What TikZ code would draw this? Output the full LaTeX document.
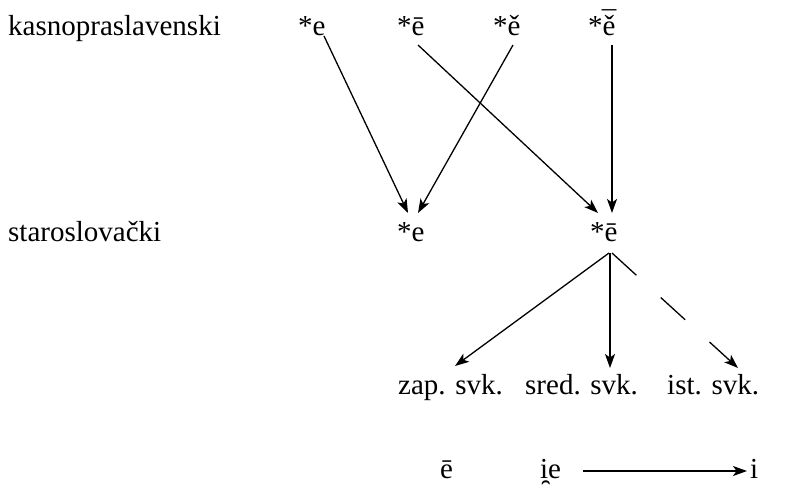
\documentclass[tikz,border=0pt]{standalone}
\usepackage{fontspec}
\setmainfont{Liberation Serif}
\newfontfamily\tms{Liberation Serif}
\usetikzlibrary{arrows.meta,calc}
\newcommand{\longjat}{\ooalign{ě\cr\hidewidth\raisebox{3.6pt}{¯}\hidewidth\cr}}
\newcommand{\nonsyli}{i\kern-2.5pt\char"032F\kern2.5pt}
\tikzset{
  txt/.style={inner sep=0pt, anchor=base west, font=\tms\fontsize{29}{34}\selectfont},
  arr/.style={line width=1.3pt, -{Stealth[length=14pt,width=10pt,inset=3.5pt]}},
  dsh/.style={arr, dash pattern=on 33pt off 33pt}
}
\begin{document}
\begin{tikzpicture}[x=1pt,y=-1pt]
\useasboundingbox (0,0) rectangle (798,498);
% labels
\node[txt] (l1) at (8,35) {kasnopraslavenski};
\node[txt] (l2) at (8,241) {staroslovački};
% row 1
\node[txt] (r1a) at (298,35) {*e};
\node[txt] (r1b) at (397,35) {*ē};
\node[txt] (r1c) at (493,35) {*ě};
\node[txt] (r1d) at (588,35) {*\longjat};
% row 2
\node[txt] (r2a) at (397,241) {*e};
\node[txt] (r2b) at (590,241) {*ē};
% dialects
\node[txt] (zap) at (398,394) {zap. svk.};
\node[txt] (sred) at (525,394) {sred. svk.};
\node[txt] (ist) at (667,394) {ist. svk.};
% bottom
\node[txt] (b1) at (440,478) {ē};
\node[txt] (b2) at (540,478) {\nonsyli e};
\node[txt] (b3) at (750,478) {i};
% arrows row1 -> row2
\draw[arr] ($(r1a.base west)+(26,1)$) -- ($(r2a.base west)+(11,-28)$);
\draw[arr] ($(r1b.base west)+(21,10)$) -- ($(r2b.base west)+(8,-28)$);
\draw[arr] ($(r1c.base west)+(20,10)$) -- ($(r2a.base west)+(21,-28)$);
\draw[arr] ($(r1d.base west)+(24,10)$) -- ($(r2b.base west)+(22,-28)$);
% row2 -> dialects
\draw[arr] ($(r2b.base west)+(19,12)$) -- ($(zap.base west)+(57,-28)$);
\draw[arr] ($(r2b.base west)+(20,12)$) -- ($(sred.base west)+(85,-26)$);
\draw[dsh] ($(r2b.base west)+(22,12)$) -- ($(ist.base west)+(71,-26)$);
% bottom arrow
\draw[arr] ($(b2.base west)+(43,-7)$) -- ($(b3.base west)+(-3,-7)$);
\end{tikzpicture}
\end{document}
